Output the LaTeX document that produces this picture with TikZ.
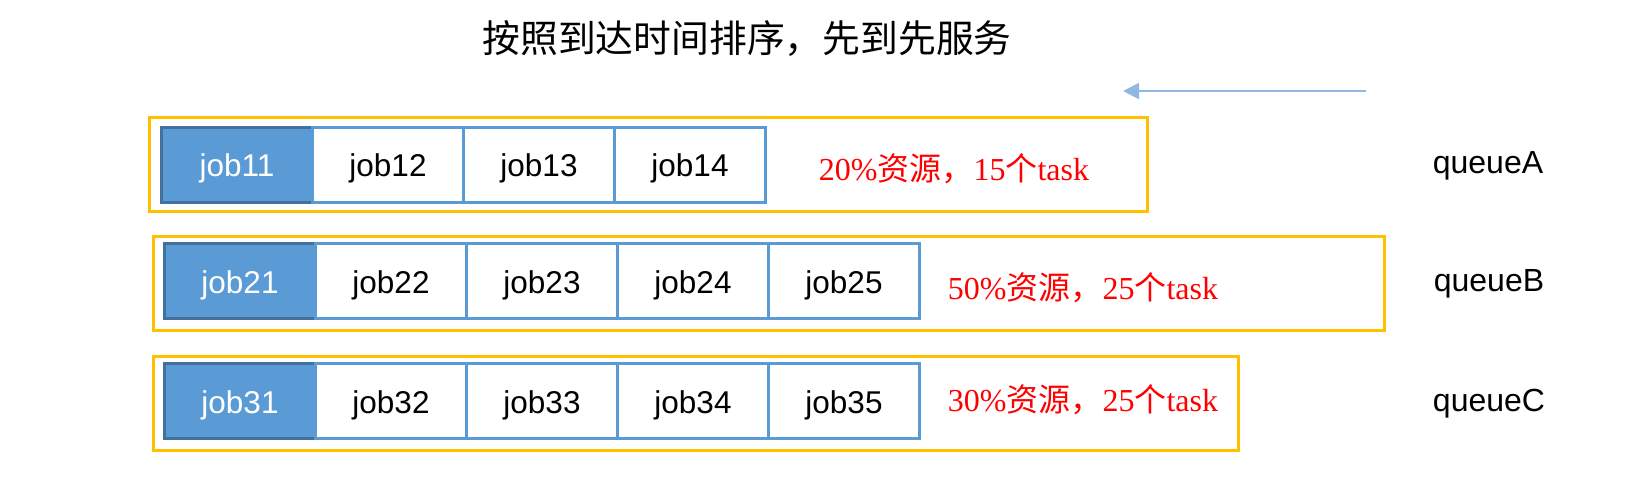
\documentclass[tikz,border=0pt]{standalone}
\usepackage{fontspec}
\setmainfont{Liberation Serif}
\setsansfont{Liberation Sans}
\newfontfamily\cjk{Noto Sans CJK SC}
\usepackage{xcolor}
\usepackage{tikz}
\usetikzlibrary{arrows.meta, positioning}

\definecolor{jobblue}{HTML}{5B9BD5}
\definecolor{jobdark}{HTML}{41719C}
\definecolor{queueyellow}{HTML}{FFC000}
\definecolor{arrowblue}{HTML}{8FB9E2}

\begin{document}
\begin{tikzpicture}[x=0.5pt, y=-0.5pt,
    queuebox/.style={rectangle, draw=queueyellow, line width=1.5pt, minimum height=47pt},
    job/.style={rectangle, draw=jobblue, line width=1.5pt, fill=white, minimum width=75.5pt, minimum height=37.5pt, inner sep=0pt, outer sep=0pt, text height=12.5pt, text depth=0.3pt, font=\sffamily\fontsize{15.75}{18}\selectfont},
    firstjob/.style={job, draw=jobdark, fill=jobblue, text=white},
    share/.style={text=red, font=\rmfamily\fontsize{16}{19}\selectfont},
    qname/.style={font=\sffamily\fontsize{16}{19}\selectfont},
    arrow/.style={-{Triangle[length=8pt, width=8pt]}, draw=arrowblue, line width=1pt}
]
    \useasboundingbox (0,0) rectangle (1652,484);

    \node[font=\cjk\fontsize{18.9}{23}\selectfont] (title) at (747,39) {按照到达时间排序，先到先服务};
    \coordinate (arrowstart) at (1366,91);
    \coordinate (arrowend) at (1123,91);
    \draw[arrow] (arrowstart) -- (arrowend);

    % queueA
    \node[queuebox, minimum width=499pt] (boxA) at (648,164.5) {};
    \node[firstjob] (job11) at (237,164.5) {job11};
    \node[job, right=0pt of job11] (job12) {job12};
    \node[job, right=0pt of job12] (job13) {job13};
    \node[job, right=0pt of job13] (job14) {job14};
    \node[share] (shareA) at (954,169) {20\%{\cjk 资源，}15{\cjk 个}task};
    \node[qname] (queueA) at (1488,166) {queueA};

    % queueB
    \node[queuebox, minimum width=615.5pt] (boxB) at (768.5,283) {};
    \node[firstjob] (job21) at (240,281) {job21};
    \node[job, right=0pt of job21] (job22) {job22};
    \node[job, right=0pt of job22] (job23) {job23};
    \node[job, right=0pt of job23] (job24) {job24};
    \node[job, right=0pt of job24] (job25) {job25};
    \node[share] (shareB) at (1083,288) {50\%{\cjk 资源，}25{\cjk 个}task};
    \node[qname] (queueB) at (1489,284) {queueB};

    % queueC
    \node[queuebox, minimum width=542.5pt] (boxC) at (695.5,403.5) {};
    \node[firstjob] (job31) at (240,401) {job31};
    \node[job, right=0pt of job31] (job32) {job32};
    \node[job, right=0pt of job32] (job33) {job33};
    \node[job, right=0pt of job33] (job34) {job34};
    \node[job, right=0pt of job34] (job35) {job35};
    \node[share] (shareC) at (1083,400) {30\%{\cjk 资源，}25{\cjk 个}task};
    \node[qname] (queueC) at (1489,404) {queueC};
\end{tikzpicture}
\end{document}
